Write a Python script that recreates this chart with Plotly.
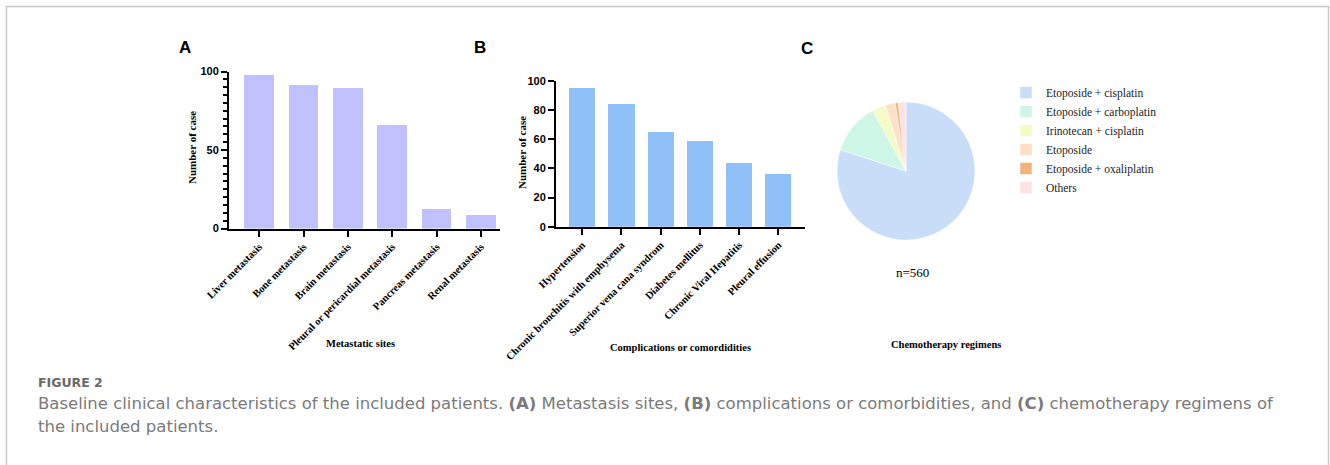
import plotly.graph_objects as go

# ---------------- data ----------------
sites = ["Liver metastasis", "Bone metastasis", "Brain metastasis",
         "Pleural or pericardial metastasis", "Pancreas metastasis", "Renal metastasis"]
site_cases = [98, 92, 90, 66, 13, 9]

comps = ["Hypertension", "Chronic bronchitis with emphysema", "Superior vena cana syndrom",
         "Diabetes mellitus", "Chronic Viral Hepatitis", "Pleural effusion"]
comp_cases = [95, 84, 65, 59, 44, 36]

regimens = ["Etoposide + cisplatin", "Etoposide + carboplatin", "Irinotecan + cisplatin",
            "Etoposide", "Etoposide + oxaliplatin", "Others"]
regimen_counts = [448, 67, 18, 13, 4, 10]

a_ticks = [0, 50, 100]
b_ticks = [0, 20, 40, 60, 80, 100]

# ---------------- layout helpers ----------------
W, H = 1330, 465
def px(x):
    return x / W
def py(y):
    return 1 - y / H

SERIF = "Liberation Serif, Times New Roman, serif"
SANS = "Liberation Sans, Arial, sans-serif"
CAP = "DejaVu Sans, Open Sans, sans-serif"

fig = go.Figure()

fig.add_trace(go.Bar(x=sites, y=site_cases, marker=dict(color="#c0c0fc", line=dict(width=0)),
                     width=0.67, xaxis="x", yaxis="y", showlegend=False))
fig.add_trace(go.Bar(x=comps, y=comp_cases, marker=dict(color="#90c0f8", line=dict(width=0)),
                     width=0.67, xaxis="x2", yaxis="y2", showlegend=False))
fig.add_trace(go.Pie(labels=regimens, values=regimen_counts, sort=False, direction="clockwise",
                     rotation=0, textinfo="none", hoverinfo="label+value",
                     marker=dict(colors=["#c8ddf8", "#cdf6e6", "#f5fbc6", "#fde0c7", "#f2b37b", "#fde1e3"],
                                 line=dict(color="white", width=0.5)),
                     domain=dict(x=[px(837), px(975)], y=[py(240), py(102)])))

common_x = dict(showline=True, linewidth=2, linecolor="black", ticks="outside", ticklen=6,
                tickwidth=2, tickcolor="black", tickangle=-45, showgrid=False, zeroline=False,
                automargin=False,
                tickfont=dict(family=SERIF, size=10.5, color="black", weight="bold"))
common_y = dict(showline=True, linewidth=2, linecolor="black", ticks="outside", ticklen=6,
                tickwidth=2, tickcolor="black", showgrid=False, zeroline=False,
                automargin=False,
                tickfont=dict(family=SANS, size=11, color="black", weight="bold"))

fig.update_layout(
    template="none",
    width=W, height=H, margin=dict(l=0, r=0, t=0, b=0, pad=0, autoexpand=False),
    paper_bgcolor="white", plot_bgcolor="white",
    bargap=0,
    xaxis=dict(domain=[px(229), px(500)], range=[-0.68, 5.43], anchor="y", **common_x),
    yaxis=dict(domain=[py(228.5), py(71.5)], range=[0, 100], anchor="x",
               tickvals=a_ticks,
               minor=dict(dtick=5, ticks="outside", ticklen=4, tickwidth=1.5, tickcolor="black"),
               **common_y),
    xaxis2=dict(domain=[px(556), px(805)], range=[-0.67, 5.68], anchor="y2", **common_x),
    yaxis2=dict(domain=[py(226.7), py(80.7)], range=[0, 100], anchor="x2",
                tickvals=b_ticks, **common_y),
    legend=dict(x=px(1006), y=py(78), xanchor="left", yanchor="top",
                font=dict(family=SERIF, size=11.5, color="#222"), bgcolor="rgba(0,0,0,0)",
                tracegroupgap=0),
    showlegend=True,
)

ann = []
def add(text, x, y, size, family, color="black", xanchor="center", yanchor="middle", angle=0):
    ann.append(dict(text=text, x=px(x), y=py(y), xref="paper", yref="paper", showarrow=False,
                    xanchor=xanchor, yanchor=yanchor, textangle=angle,
                    font=dict(size=size, family=family, color=color)))

add("<b>A</b>", 185, 47, 17, SANS)
add("<b>B</b>", 480, 47, 17, SANS)
add("<b>C</b>", 807, 48, 17, SANS)
add("<b>Number of case</b>", 192, 148, 11, SERIF, angle=-90)
add("<b>Number of case</b>", 522, 153, 11, SERIF, angle=-90)
add("<b>Metastatic sites</b>", 360, 343, 10.5, SERIF)
add("<b>Complications or comordidities</b>", 680, 347, 10.5, SERIF)
add("<b>Chemotherapy regimens</b>", 946, 344, 10.5, SERIF)
add("n=560", 913, 272, 13, SERIF)
add("<b>FIGURE 2</b>", 36, 382, 12.5, CAP, color="#6a6a6a", xanchor="left")
add("Baseline clinical characteristics of the included patients. <b>(A)</b> Metastasis sites, "
    "<b>(B)</b> complications or comorbidities, and <b>(C)</b> chemotherapy regimens of",
    36, 403, 16.5, CAP, color="#7a7a7a", xanchor="left")
add("the included patients.", 36, 426, 16.5, CAP, color="#7a7a7a", xanchor="left")

fig.update_layout(annotations=ann)

fig.add_shape(type="rect", xref="paper", yref="paper", x0=px(6.5), x1=px(1328.5),
              y0=py(480), y1=py(6.5), line=dict(color="#c8c8c8", width=1.5), fillcolor="rgba(0,0,0,0)")

fig.write_html("out.html", config={"displayModeBar": False},
               post_script="document.body.style.margin='0';document.body.style.padding='0';")
